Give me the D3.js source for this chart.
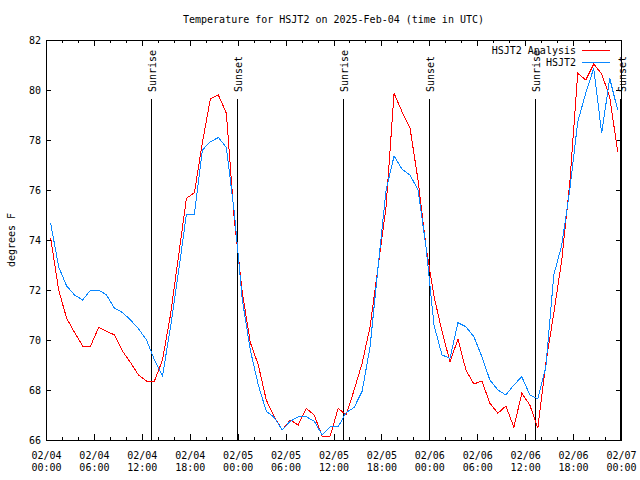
<!DOCTYPE html>
<html>
<head>
<meta charset="utf-8">
<script src="https://cdn.jsdelivr.net/npm/d3@7"></script>
<style>
  html, body { margin: 0; padding: 0; background: #fff; }
  svg { display: block; }
  text { font-family: "DejaVu Sans Mono", "Liberation Mono", monospace; font-size: 10px; fill: #000; }
</style>
</head>
<body>
<svg id="chart" width="640" height="480"></svg>
<script>
// ---------------- data ----------------
const titleText = "Temperature for HSJT2 on 2025-Feb-04 (time in UTC)";
const yLabel = "degrees F";
const seriesNames = ["HSJT2 Analysis", "HSJT2"];
const firstObs = "2025-02-04T00:35:00Z";   // hourly observations from here
const analysisTemps = [
  74.09, 72.0, 70.87, 70.3, 69.76, 69.76, 70.5, 70.35, 70.2, 69.55,
  69.1, 68.6, 68.36, 68.36, 69.2, 71.0, 73.33, 75.67, 75.89, 77.9,
  79.64, 79.8, 79.07, 74.8, 71.9, 69.9, 69.0, 67.6, 66.93, 66.4,
  66.8, 66.6, 67.27, 67.0, 66.15, 66.16, 67.27, 67.0, 68.0, 69.07,
  70.53, 72.93, 75.33, 79.87, 79.13, 78.47, 76.4, 73.73, 71.75, 70.35,
  69.13, 70.03, 68.8, 68.24, 68.36, 67.47, 67.07, 67.36, 66.51, 67.87,
  67.4, 66.47, 69.07, 71.07, 73.2, 76.27, 80.67, 80.4, 81.04, 80.64,
  79.73, 77.53
];
const stationTemps = [
  74.67, 72.93, 72.16, 71.8, 71.6, 72.0, 72.0, 71.8, 71.27, 71.1,
  70.8, 70.45, 70.0, 69.2, 68.56, 70.5, 72.7, 75.04, 75.04, 77.6,
  77.93, 78.1, 77.7, 75.1, 71.6, 69.6, 68.2, 67.15, 66.9, 66.4,
  66.75, 66.93, 66.93, 66.75, 66.2, 66.53, 66.53, 67.1, 67.3, 67.95,
  69.73, 72.93, 76.0, 77.36, 76.83, 76.6, 76.0, 73.73, 70.6, 69.4,
  69.27, 70.69, 70.53, 70.13, 69.33, 68.4, 68.0, 67.8, 68.2, 68.53,
  67.8, 67.65, 68.9, 72.6, 73.8, 76.0, 78.73, 79.87, 80.87, 78.27,
  80.47, 79.2
];
const eventLabels = ["Sunrise", "Sunset", "Sunrise", "Sunset", "Sunrise", "Sunset"];
const eventTimes = ["2025-02-04T13:11:00Z", "2025-02-04T23:58:00Z",
                    "2025-02-05T13:13:00Z", "2025-02-05T23:59:00Z",
                    "2025-02-06T13:15:00Z", "2025-02-06T23:59:00Z"];
const xStart = "2025-02-04T00:00:00Z", xEnd = "2025-02-07T00:00:00Z";
const yTicks = [66, 68, 70, 72, 74, 76, 78, 80, 82];
const seriesColors = ["#ff0000", "#0a87ff"];

// ---------------- layout ----------------
const L = 46, R = 621, T = 40, B = 440;
const svg = d3.select("#chart");
const x = d3.scaleUtc().domain([new Date(xStart), new Date(xEnd)]).range([L, R]);
const y = d3.scaleLinear().domain([66, 82]).range([B, T]);

const t0 = new Date(firstObs).getTime();
const times = analysisTemps.map((_, i) => new Date(t0 + i * 3600e3));

// title
svg.append("text").attr("x", (L + R) / 2).attr("y", 23).attr("text-anchor", "middle").text(titleText);
// y label
svg.append("text").attr("transform", `translate(15,${(T + B) / 2}) rotate(-90)`)
  .attr("text-anchor", "middle").text(yLabel);

// axes: minor ticks (2h) and major ticks (6h)
const minor = d3.utcHour.every(2).range(new Date(xStart), new Date(xEnd));
const major = d3.utcHour.every(6).range(new Date(xStart), new Date(+new Date(xEnd) + 1));
function noText(g) { g.selectAll("text").remove(); g.select(".domain").remove(); }
svg.append("g").attr("transform", `translate(0,${B})`)
  .call(d3.axisBottom(x).tickValues(minor).tickSize(-3)).call(noText);
svg.append("g").attr("transform", `translate(0,${T})`)
  .call(d3.axisTop(x).tickValues(minor).tickSize(-3)).call(noText);
svg.append("g").attr("transform", `translate(0,${T})`)
  .call(d3.axisTop(x).tickValues(major).tickSize(-6)).call(noText);
const xAxis = svg.append("g").attr("transform", `translate(0,${B})`)
  .call(d3.axisBottom(x).tickValues(major).tickSize(-6).tickPadding(0));
xAxis.select(".domain").remove();
const fmtD = d3.utcFormat("%m/%d"), fmtT = d3.utcFormat("%H:%M");
xAxis.selectAll("text").each(function(d) {
  const t = d3.select(this).text(null).attr("y", 0).attr("dy", null);
  t.append("tspan").attr("x", 0).attr("y", 19).text(fmtD(d));
  t.append("tspan").attr("x", 0).attr("y", 31).text(fmtT(d));
});
const yAxis = svg.append("g").attr("transform", `translate(${L},0)`)
  .call(d3.axisLeft(y).tickValues(yTicks).tickSize(-5).tickPadding(5).tickFormat(d3.format("d")));
yAxis.select(".domain").remove();
svg.append("g").attr("transform", `translate(${R},0)`)
  .call(d3.axisRight(y).tickValues(yTicks).tickSize(-5)).call(noText);
svg.selectAll(".tick line").attr("stroke", "#000").attr("shape-rendering", "crispEdges");
svg.selectAll(".tick text").attr("font-size", 10).attr("font-family", "DejaVu Sans Mono");

// border
svg.append("rect").attr("x", L).attr("y", T).attr("width", R - L).attr("height", B - T)
  .attr("fill", "none").attr("stroke", "#000").attr("shape-rendering", "crispEdges");

// sunrise / sunset lines
eventTimes.forEach((s, i) => {
  const ex = x(new Date(s));
  svg.append("line").attr("x1", ex).attr("x2", ex).attr("y1", 99).attr("y2", B)
    .attr("stroke", "#000").attr("shape-rendering", "crispEdges");
  svg.append("text").attr("transform", `translate(${ex + 5},92) rotate(-90)`)
    .attr("text-anchor", "start").text(eventLabels[i]);
});

// series
const line = d3.line().x((d, i) => x(times[i])).y(d => y(d));
[analysisTemps, stationTemps].forEach((vals, si) => {
  svg.append("path").datum(vals).attr("d", line).attr("fill", "none")
    .attr("stroke", seriesColors[si]).attr("stroke-width", 1)
    .attr("shape-rendering", "crispEdges");
});

// legend
seriesNames.forEach((n, i) => {
  const ly = 50 + i * 12;
  svg.append("text").attr("x", 576).attr("y", ly + 4).attr("text-anchor", "end").text(n);
  svg.append("line").attr("x1", 582).attr("x2", 610).attr("y1", ly).attr("y2", ly)
    .attr("stroke", seriesColors[i]).attr("shape-rendering", "crispEdges");
});
</script>
</body>
</html>
